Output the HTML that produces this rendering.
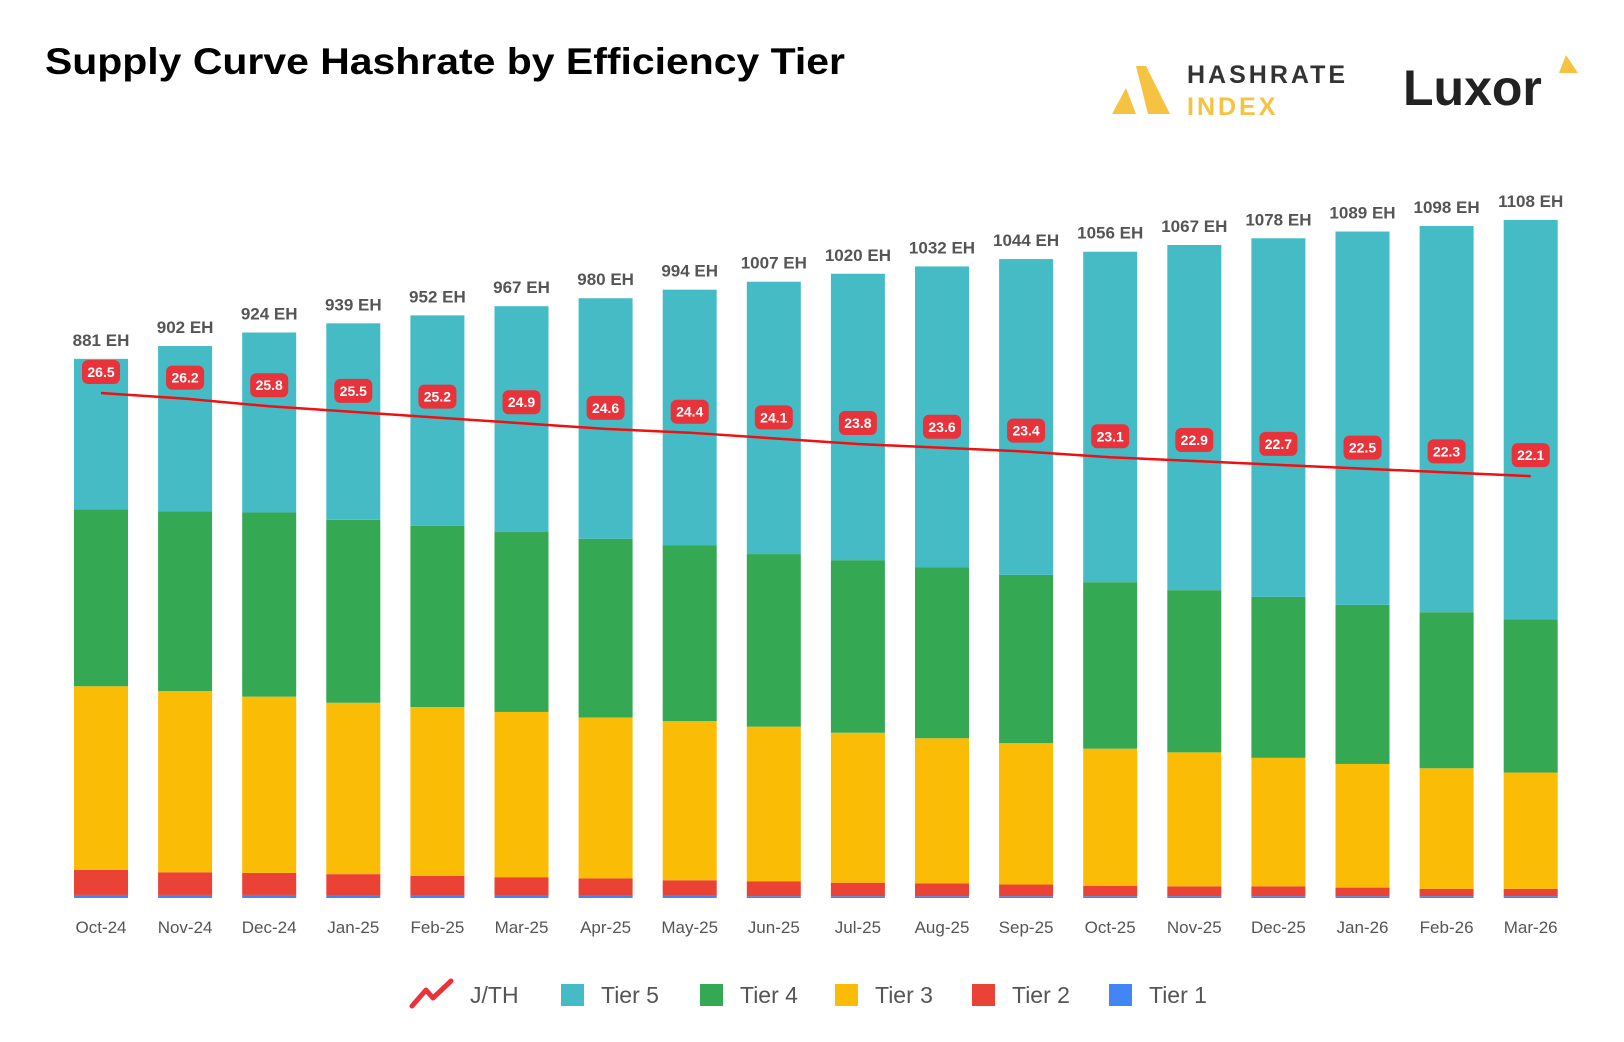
<!DOCTYPE html>
<html><head><meta charset="utf-8"><style>
html,body{margin:0;padding:0;background:#fff;}
svg{display:block;font-family:"Liberation Sans",sans-serif;}
</style></head><body>
<svg id="chart" width="1624" height="1042" viewBox="0 0 1624 1042" xmlns="http://www.w3.org/2000/svg">
<text x="45" y="74" font-size="37" font-weight="bold" fill="#000" textLength="800" lengthAdjust="spacingAndGlyphs">Supply Curve Hashrate by Efficiency Tier</text>
<g>
<path d="M1136 66 L1146 66 L1170 114 L1148 114 Z" fill="#F5C242"/>
<path d="M1126 88 L1136 114 L1112 114 Z" fill="#F5C242"/>
<text x="1187" y="83" font-size="25" font-weight="bold" fill="#333" letter-spacing="3">HASHRATE</text>
<text x="1187" y="115" font-size="25" font-weight="bold" fill="#F5C242" letter-spacing="3">INDEX</text>
</g>
<g>
<text x="1403" y="105" font-size="50" font-weight="bold" fill="#222">Luxor</text>
<path d="M1566 55 L1578 73 L1559 73 Z" fill="#F5C242"/>
</g>
<g id="bars"></g>
<g id="line"></g>
<g id="xlabels"></g>
<g id="legend"></g>
</svg>
<script>
const categories=["Oct-24","Nov-24","Dec-24","Jan-25","Feb-25","Mar-25","Apr-25","May-25","Jun-25","Jul-25","Aug-25","Sep-25","Oct-25","Nov-25","Dec-25","Jan-26","Feb-26","Mar-26"];
const totals=[881,902,924,939,952,967,980,994,1007,1020,1032,1044,1056,1067,1078,1089,1098,1108];
const tier1=[5,5,5,4,4,4,4,4,3,3,3,3,3,3,3,3,3,3];
const tier2=[41,37,36,35,32,30,28,25,24,22,21,19,17,16,16,14,12,12];
const tier3=[300,296,288,280,276,270,263,260,253,245,237,231,224,219,210,202,197,190];
const tier4=[289,294,301,299,296,294,292,287,282,282,279,275,272,265,263,260,255,250];
const jth=[26.5,26.2,25.8,25.5,25.2,24.9,24.6,24.4,24.1,23.8,23.6,23.4,23.1,22.9,22.7,22.5,22.3,22.1];
const tier5=totals.map((t,i)=>t-tier1[i]-tier2[i]-tier3[i]-tier4[i]);
const NS="http://www.w3.org/2000/svg";
const baseY=898, pxPerEH=0.612, x0=101, step=84.1, bw=54;
const xC=i=>x0+i*step;
const yEH=v=>baseY-v*pxPerEH;
const yJ=v=>393-(v-26.5)*18.9;
function mk(tag,attrs,parent){const e=document.createElementNS(NS,tag);for(const k in attrs)e.setAttribute(k,attrs[k]);parent.appendChild(e);return e;}
const colors=["#4285F4","#EA4335","#FBBC05","#34A853","#45BBC6"];
const tiers=[tier1,tier2,tier3,tier4,tier5];
const tierNames=["tier-1","tier-2","tier-3","tier-4","tier-5"];
const gb=document.getElementById('bars');
categories.forEach((c,i)=>{
  let cum=0;
  tiers.forEach((arr,k)=>{
    const y1=yEH(cum), y2=yEH(cum+arr[i]);
    const r=mk('rect',{x:xC(i)-bw/2,y:y2,width:bw,height:y1-y2,fill:colors[k]},gb);
    
    
    cum+=arr[i];
  });
  const t=mk('text',{x:xC(i),y:yEH(totals[i])-13,'text-anchor':'middle','font-size':'17','font-weight':'bold',fill:'#555'},gb);
  t.textContent=totals[i]+' EH';
  
  
});
const gl=document.getElementById('line');
const pl=mk('polyline',{points:jth.map((v,i)=>xC(i)+','+yJ(v)).join(' '),fill:'none',stroke:'#F01010','stroke-width':'2.5'},gl);


jth.forEach((v,i)=>{
  const cy=yJ(v)-21;
  const r=mk('rect',{x:xC(i)-19,y:cy-12,width:38,height:24,rx:6,fill:'#E8333A'},gl);
  
  
  const t=mk('text',{x:xC(i),y:cy+5,'text-anchor':'middle','font-size':'14','font-weight':'bold',fill:'#fff'},gl);
  t.textContent=v.toFixed(1);
  
  
});
const gx=document.getElementById('xlabels');
categories.forEach((c,i)=>{
  const t=mk('text',{x:xC(i),y:933,'text-anchor':'middle','font-size':'17',fill:'#555'},gx);
  t.textContent=c;
  
  
});
const lg=document.getElementById('legend');
const li=mk('path',{d:'M412 1006 L426 990 L433 998 L451 981',fill:'none',stroke:'#E8333A','stroke-width':'5','stroke-linecap':'round','stroke-linejoin':'round'},lg);


const lt=mk('text',{x:470,y:1003,'font-size':'23',fill:'#555'},lg);
lt.textContent='J/TH';


const legItems=[["Tier 5","#45BBC6",561],["Tier 4","#34A853",700],["Tier 3","#FBBC05",835],["Tier 2","#EA4335",972],["Tier 1","#4285F4",1109]];
legItems.forEach(([name,col,x])=>{
  const r=mk('rect',{x:x,y:984,width:23,height:22,fill:col},lg);
  
  
  const t=mk('text',{x:x+40,y:1003,'font-size':'23',fill:'#555'},lg);
  t.textContent=name;
  
  
});
</script>
</body></html>
